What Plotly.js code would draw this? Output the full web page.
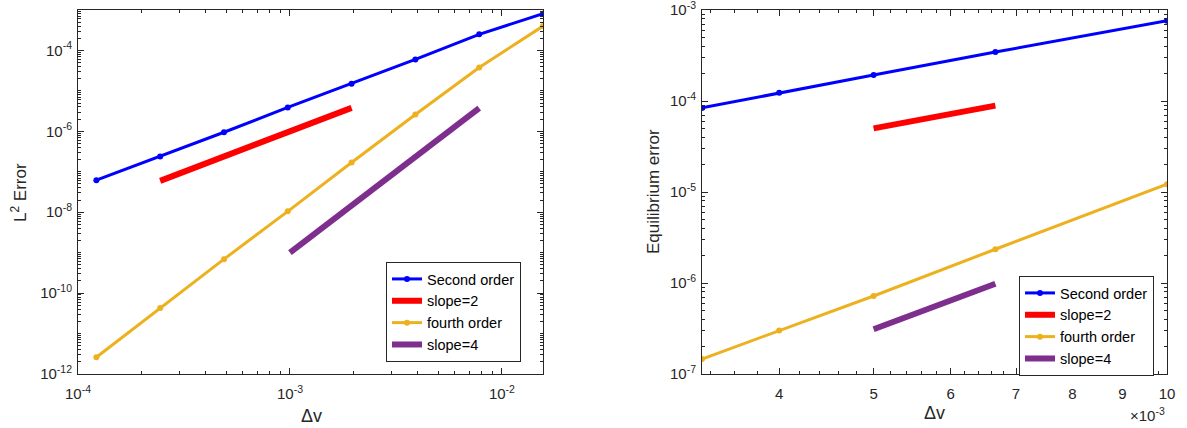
<!DOCTYPE html>
<html>
<head>
<meta charset="utf-8">
<script src="https://cdn.plot.ly/plotly-3.0.1.min.js"></script>
<style>html,body{margin:0;padding:0;background:#fff;}#chart{width:1187px;height:428px;}</style>
</head>
<body>
<div id="chart"></div>
<script>
// ---- Left panel data (L2 error) ----
const dvLeft = [1.2207e-4, 2.4414e-4, 4.8828e-4, 9.7656e-4, 1.9531e-3, 3.9063e-3, 7.8125e-3, 1.5625e-2];
const secondLeft = [6.2e-8, 2.4e-7, 9.5e-7, 3.9e-6, 1.5e-5, 6.0e-5, 2.5e-4, 8.1e-4];
const fourthLeft = [2.6e-12, 4.3e-11, 6.9e-10, 1.05e-8, 1.7e-7, 2.6e-6, 3.8e-5, 4.0e-4];
const slope2LeftX = [2.4414e-4, 1.9531e-3];
const slope2LeftY = [5.96e-8, 3.81e-6];
const slope4LeftX = [1.0e-3, 7.8125e-3];
const slope4LeftY = [1.0e-9, 3.73e-6];

// ---- Right panel data (Equilibrium error) ----
const dvRight = [3.3333e-3, 4.0e-3, 5.0e-3, 6.6667e-3, 1.0e-2];
const secondRight = [8.4e-5, 1.23e-4, 1.93e-4, 3.45e-4, 7.6e-4];
const fourthRight = [1.46e-7, 3.0e-7, 7.2e-7, 2.35e-6, 1.22e-5];
const slope2RightX = [5.0e-3, 6.6667e-3];
const slope2RightY = [5.0e-5, 8.9e-5];
const slope4RightX = [5.0e-3, 6.6667e-3];
const slope4RightY = [3.1e-7, 9.8e-7];

const seriesNames = ['Second order', 'slope=2', 'fourth order', 'slope=4'];
const leftXTickVals = [1e-4, 1e-3, 1e-2];
const leftXTickText = ['10<sup>-4</sup>', '10<sup>-3</sup>', '10<sup>-2</sup>'];
const leftYTickVals = [1e-12, 1e-10, 1e-8, 1e-6, 1e-4];
const leftYTickText = ['10<sup>-12</sup>', '10<sup>-10</sup>', '10<sup>-8</sup>', '10<sup>-6</sup>', '10<sup>-4</sup>'];
const rightXTickVals = [0.004, 0.005, 0.006, 0.007, 0.008, 0.009, 0.010];
const rightXTickText = ['4', '5', '6', '7', '8', '9', '10'];
const rightYTickVals = [1e-7, 1e-6, 1e-5, 1e-4, 1e-3];
const rightYTickText = ['10<sup>-7</sup>', '10<sup>-6</sup>', '10<sup>-5</sup>', '10<sup>-4</sup>', '10<sup>-3</sup>'];

const C_BLUE = '#0000FF', C_RED = '#FF0000', C_YEL = '#EDB120', C_PUR = '#7E2F8E';
const AX = '#262626';
const FONT = 'Liberation Sans, Arial, Helvetica, sans-serif';

function logMinor(e0, e1, withDecades) {
  const v = [];
  for (let e = e0; e < e1; e++) {
    for (let m = 2; m <= 9; m++) v.push(m * Math.pow(10, e));
    if (withDecades && (e - e0) % 2 === 1) v.push(Math.pow(10, e));
  }
  return v;
}
const rightMinorX = [];
for (let k = 34; k <= 100; k += 2) rightMinorX.push(k / 10000);

function lineTrace(x, y, name, color, width, markers, xa, ya, leg) {
  return {
    x: x, y: y, name: name, type: 'scatter',
    mode: markers ? 'lines+markers' : 'lines',
    line: {color: color, width: width},
    marker: {color: color, size: 6, symbol: 'circle'},
    xaxis: xa, yaxis: ya, legend: leg
  };
}

const data = [
  lineTrace(dvLeft, secondLeft, seriesNames[0], C_BLUE, 3, true, 'x', 'y', 'legend'),
  lineTrace(slope2LeftX, slope2LeftY, seriesNames[1], C_RED, 6, false, 'x', 'y', 'legend'),
  lineTrace(dvLeft, fourthLeft, seriesNames[2], C_YEL, 3, true, 'x', 'y', 'legend'),
  lineTrace(slope4LeftX, slope4LeftY, seriesNames[3], C_PUR, 6, false, 'x', 'y', 'legend'),
  lineTrace(dvRight, secondRight, seriesNames[0], C_BLUE, 3, true, 'x2', 'y2', 'legend2'),
  lineTrace(slope2RightX, slope2RightY, seriesNames[1], C_RED, 6, false, 'x2', 'y2', 'legend2'),
  lineTrace(dvRight, fourthRight, seriesNames[2], C_YEL, 3, true, 'x2', 'y2', 'legend2'),
  lineTrace(slope4RightX, slope4RightY, seriesNames[3], C_PUR, 6, false, 'x2', 'y2', 'legend2')
];

const W = 1187, H = 428;
const yDom = [(H - 374) / H, (H - 10) / H];

function baseAxis(isX) {
  return {
    showline: true, linecolor: AX, linewidth: 1, mirror: 'allticks',
    ticks: 'inside', ticklen: 6, tickcolor: AX, tickwidth: 1,
    showgrid: false, zeroline: false,
    tickfont: {family: FONT, size: 15, color: AX},
    ticklabelstandoff: isX ? 6 : 2,
    ticklabeloverflow: 'allow',
    automargin: false
  };
}
function minorOf(vals) {
  return {tickmode: 'array', tickvals: vals, ticks: 'inside', ticklen: 3, tickcolor: AX, showgrid: false};
}
const xaxis = Object.assign(baseAxis(true), {
  type: 'log', domain: [78 / W, 543 / W], range: [-4.00001, Math.log10(1 / 64)],
  tickmode: 'array', tickvals: leftXTickVals, ticktext: leftXTickText, anchor: 'y',
  minor: minorOf(logMinor(-4, -1, false))
});
const yaxis = Object.assign(baseAxis(false), {
  type: 'log', domain: yDom, range: [-12.00001, -2.99999],
  tickmode: 'array', tickvals: leftYTickVals, ticktext: leftYTickText, anchor: 'x',
  minor: minorOf(logMinor(-12, -3, true))
});
const xaxis2 = Object.assign(baseAxis(true), {
  type: 'log', domain: [702 / W, 1167 / W], range: [Math.log10(1 / 300), -1.99999],
  tickmode: 'array', tickvals: rightXTickVals, ticktext: rightXTickText, anchor: 'y2',
  minor: minorOf(rightMinorX)
});
const yaxis2 = Object.assign(baseAxis(false), {
  type: 'log', domain: yDom, range: [-7.00001, -2.99999],
  tickmode: 'array', tickvals: rightYTickVals, ticktext: rightYTickText, anchor: 'x2',
  minor: minorOf(logMinor(-7, -3, false))
});

function legendBox(x, y) {
  return {
    x: x, y: y, xref: 'paper', yref: 'paper', xanchor: 'left', yanchor: 'top',
    bgcolor: '#FFFFFF', bordercolor: AX, borderwidth: 1,
    font: {family: FONT, size: 14.5, color: '#000'},
    itemwidth: 30, tracegroupgap: 0
  };
}

const layout = {
  width: W, height: H,
  margin: {l: 0, r: 0, t: 0, b: 0},
  paper_bgcolor: '#FFFFFF', plot_bgcolor: '#FFFFFF',
  showlegend: true,
  xaxis: xaxis, yaxis: yaxis, xaxis2: xaxis2, yaxis2: yaxis2,
  legend: legendBox(386 / W, 1 - 262 / H),
  legend2: legendBox(1019 / W, 1 - 276 / H),
  annotations: [
    {text: 'L<sup>2</sup> Error', x: 19 / W, y: 1 - 192 / H, xref: 'paper', yref: 'paper',
     textangle: -90, showarrow: false, font: {family: FONT, size: 17, color: AX}, xanchor: 'center', yanchor: 'middle'},
    {text: 'Equilibrium error', x: 653 / W, y: 1 - 192 / H, xref: 'paper', yref: 'paper',
     textangle: -90, showarrow: false, font: {family: FONT, size: 17, color: AX}, xanchor: 'center', yanchor: 'middle'},
    {text: '\u0394v', x: 311 / W, y: 1 - 416 / H, xref: 'paper', yref: 'paper',
     showarrow: false, font: {family: FONT, size: 18, color: AX}, xanchor: 'center', yanchor: 'middle'},
    {text: '\u0394v', x: 934 / W, y: 1 - 413 / H, xref: 'paper', yref: 'paper',
     showarrow: false, font: {family: FONT, size: 18, color: AX}, xanchor: 'center', yanchor: 'middle'},
    {text: '\u00d710<sup>-3</sup>', x: 1167 / W, y: 1 - 414 / H, xref: 'paper', yref: 'paper',
     showarrow: false, font: {family: FONT, size: 15, color: AX}, xanchor: 'right', yanchor: 'middle'}
  ]
};

Plotly.newPlot('chart', data, layout, {staticPlot: true, displayModeBar: false});
</script>
</body>
</html>
